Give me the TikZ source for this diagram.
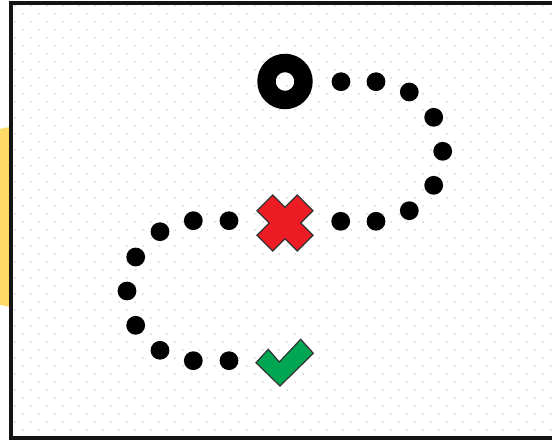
\documentclass[tikz,border=0pt]{standalone}
\usepackage{tikz}
\usetikzlibrary{calc,positioning}
\definecolor{mapframe}{RGB}{20,20,20}
\definecolor{mapgrid}{RGB}{226,226,226}
\definecolor{mapyellow}{RGB}{255,217,102}
\definecolor{mapred}{RGB}{237,28,36}
\definecolor{mapgreen}{RGB}{0,166,81}
\definecolor{mapedge}{RGB}{51,51,51}

\begin{document}
\begin{tikzpicture}[
      x=1pt, y=-1pt,
      trail/.style={circle, fill=black, minimum size=18.8pt, inner sep=0pt},
      startring/.style={circle, draw=black, line width=18.4pt, minimum size=37pt, inner sep=0pt},
      crossmark/.style={fill=mapred, draw=mapedge, line width=1.2pt},
      tickmark/.style={fill=mapgreen, draw=mapedge, line width=1.2pt},
      griddot/.style={fill=mapgrid}
    ]
      \useasboundingbox (0,0) rectangle (552,441);
      \clip (0,0) rectangle (552,441);
      \fill[white] (0,0) rectangle (552,441);

      \fill[mapyellow] (-5,130) -- (11,126.8) -- (11,307) -- (-5,304);

      \begin{scope}
        \clip (11,3) rectangle (600,437.5);
        \fill[white] (11,3) rectangle (600,437.5);
        \foreach \gx in {15,31,...,560}
          \foreach \gy in {6,22,...,440}
            \fill[griddot] (\gx,\gy) circle (1.25);
        \foreach \gx in {23,39,...,560}
          \foreach \gy in {14,30,...,440}
            \fill[griddot] (\gx,\gy) circle (1.25);
      \end{scope}
      \draw[mapframe, line width=4pt] (11,3) rectangle (600,437.5);

      \node[startring] (start) at (285,81.5) {};

      \foreach \px/\py [count=\k] in {341/81.7, 376/81.7, 409.3/92, 433.7/117.3, 442.7/151.3,
          433.7/185.3, 409.3/210.7, 376/221.3, 340.7/221.3,
          229/220.7, 193.3/220.7, 160/231.7, 135.7/257, 127/291,
          135.7/325.3, 160/350.3, 193.3/360.7, 229/360.7}
        \node[trail] (d\k) at (\px,\py) {};

      \coordinate (fail) at (285,223);
      \draw[crossmark, shift={(fail)}, rotate=45]
        (11.2,11.2) -- (28.5,11.2) -- (28.5,-11.2) -- (11.2,-11.2) -- (11.2,-28.5) -- (-11.2,-28.5)
        -- (-11.2,-11.2) -- (-28.5,-11.2) -- (-28.5,11.2) -- (-11.2,11.2) -- (-11.2,28.5) -- (11.2,28.5) -- cycle;

      \coordinate (goal) at (285,362);
      \draw[tickmark, shift={(goal)}]
        (-5,24) -- (-29,0.7) -- (-16.7,-12.7) -- (-5.7,0) -- (15.7,-22.7) -- (28.3,-8.7) -- cycle;
    \end{tikzpicture}
\end{document}
